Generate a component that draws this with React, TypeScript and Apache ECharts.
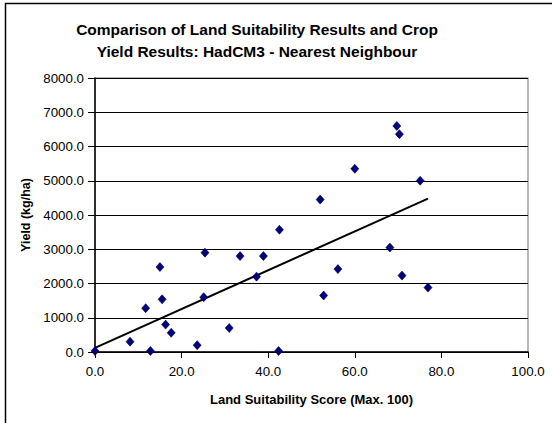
import React, { useEffect, useRef } from "react";
import * as echarts from "echarts";

const titleLines = [
  "Comparison of Land Suitability Results and Crop",
  "Yield Results: HadCM3 - Nearest Neighbour",
];
const xAxisTitle = "Land Suitability Score (Max. 100)";
const yAxisTitle = "Yield (kg/ha)";

// Land suitability score
const suitability = [
  0.0, 8.1, 11.7, 12.8, 15.0, 15.5, 16.3, 17.6, 23.6, 25.1, 25.4, 31.0, 33.5,
  37.3, 38.9, 42.4, 42.6, 52.0, 52.8, 56.1, 60.0, 68.1, 69.7, 70.3, 70.9, 75.1,
  76.9,
];
// Yield (kg/ha)
const yieldValues = [
  30, 300, 1280, 30, 2480, 1540, 800, 560, 200, 1600, 2900, 700, 2800, 2200,
  2800, 30, 3570, 4450, 1650, 2420, 5350, 3050, 6600, 6360, 2230, 5000, 1880,
];
// Linear trend line end points
const trendX = [0.0, 76.9];
const trendY = [120, 4480];

const FONT = "'Liberation Sans', Arial, Helvetica, sans-serif";

export default function App() {
  const ref = useRef<HTMLDivElement>(null);
  useEffect(() => {
    if (!ref.current) return;
    const chart = echarts.init(ref.current, null, { renderer: "svg" });
    const points = suitability.map((x, i) => [x, yieldValues[i]]);
    const trend = trendX.map((x, i) => [x, trendY[i]]);
    chart.setOption({
      animation: false,
      backgroundColor: "#ffffff",
      textStyle: { fontFamily: FONT },
      grid: {
        left: 95,
        right: 24,
        top: 78,
        bottom: 71,
        show: true,
        borderColor: "#a0a0a0",
        borderWidth: 1.5,
        backgroundColor: "transparent",
      },
      graphic: [
        {
          type: "rect",
          shape: { x: 5.5, y: 3.5, width: 700, height: 600 },
          style: { fill: "none", stroke: "#000", lineWidth: 1.5 },
          silent: true,
        },
        {
          type: "text",
          x: 257,
          y: 29,
          style: {
            text: titleLines[0],
            font: `bold 15.5px ${FONT}`,
            fill: "#000",
            textAlign: "center",
            textVerticalAlign: "middle",
          },
        },
        {
          type: "text",
          x: 257,
          y: 51,
          style: {
            text: titleLines[1],
            font: `bold 15.5px ${FONT}`,
            fill: "#000",
            textAlign: "center",
            textVerticalAlign: "middle",
          },
        },
      ],
      xAxis: {
        type: "value",
        min: 0,
        max: 100,
        interval: 20,
        name: xAxisTitle,
        nameLocation: "middle",
        nameGap: 41,
        nameTextStyle: {
          fontFamily: FONT,
          fontWeight: "bold",
          fontSize: 13,
          color: "#000",
        },
        axisLine: { show: true, onZero: false, lineStyle: { color: "#000", width: 1.5 } },
        axisTick: { show: true, inside: false, length: 6, lineStyle: { color: "#000" } },
        axisLabel: {
          fontFamily: FONT,
          fontSize: 13.3,
          color: "#000",
          margin: 13,
          formatter: (v: number) => v.toFixed(1),
        },
        splitLine: { show: false },
      },
      yAxis: {
        type: "value",
        min: 0,
        max: 8000,
        interval: 1000,
        name: yAxisTitle,
        nameLocation: "middle",
        nameGap: 62,
        nameTextStyle: {
          fontFamily: FONT,
          fontWeight: "bold",
          fontSize: 12.5,
          color: "#000",
        },
        axisLine: { show: true, onZero: false, lineStyle: { color: "#000", width: 1.5 } },
        axisTick: { show: true, inside: false, length: 7, lineStyle: { color: "#000" } },
        axisLabel: {
          fontFamily: FONT,
          fontSize: 13.3,
          color: "#000",
          margin: 11,
          formatter: (v: number) => v.toFixed(1),
        },
        splitLine: { show: true, lineStyle: { color: "#000", width: 1 } },
      },
      series: [
        {
          type: "line",
          data: trend,
          showSymbol: false,
          symbol: "none",
          lineStyle: { color: "#000", width: 2 },
          z: 2,
        },
        {
          type: "scatter",
          data: points,
          symbol: "diamond",
          symbolSize: [8, 9],
          itemStyle: { color: "#000080", borderColor: "#000033", borderWidth: 0.6, opacity: 1 },
          z: 3,
        },
      ],
    });
    return () => chart.dispose();
  }, []);
  return (
    <div
      ref={ref}
      style={{ position: "fixed", left: 0, top: 0, width: 552, height: 423 }}
    />
  );
}
